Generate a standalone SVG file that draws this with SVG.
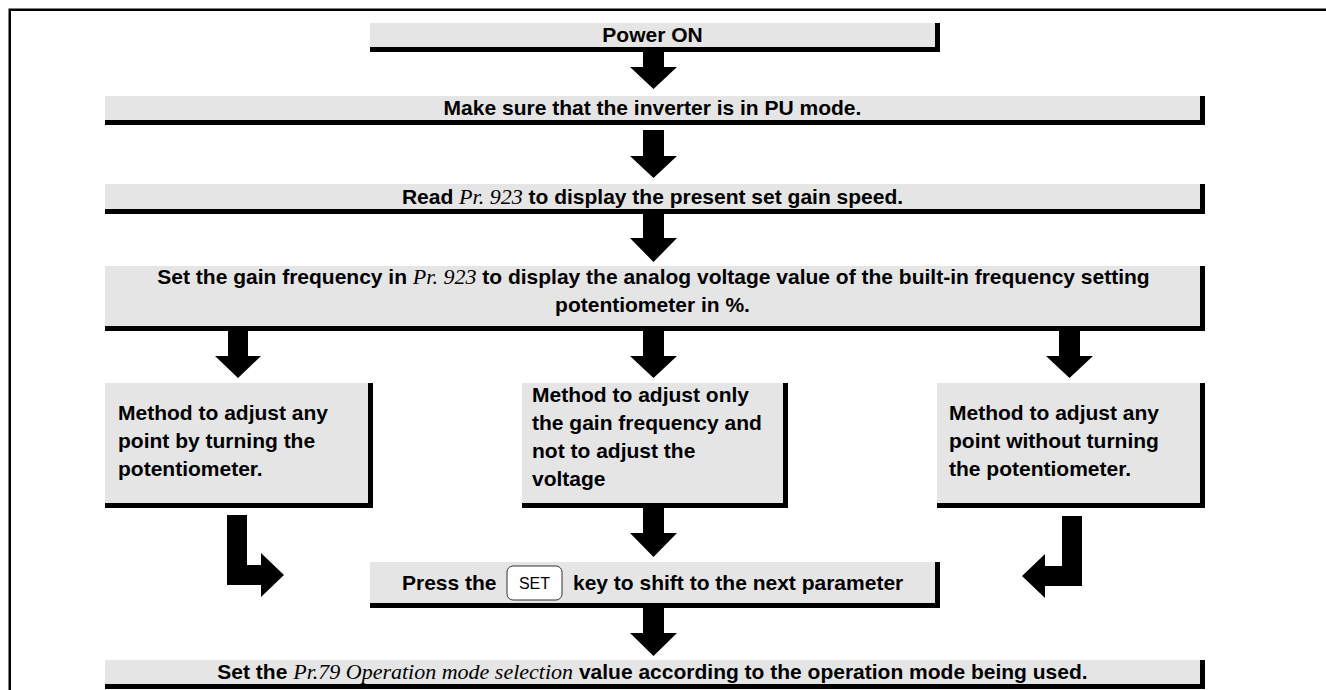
<svg xmlns="http://www.w3.org/2000/svg" width="1326" height="690" viewBox="0 0 1326 690">
<style>
.bg{fill:#e5e5e5}
.sh{fill:#000}
.t{font-family:"Liberation Sans",Arial,sans-serif;font-weight:bold;font-size:21px;fill:#000}
.c{text-anchor:middle}
.i{font-family:"Liberation Serif","Times New Roman",serif;font-style:italic;font-weight:normal;font-size:22px}
.k{font-family:"Liberation Sans",Arial,sans-serif;font-size:16px;fill:#000;text-anchor:middle}
.ar{fill:#000}
</style>
<rect x="0" y="0" width="1326" height="690" fill="#fff"/>
<path d="M9.75,690 V9.75 H1326" fill="none" stroke="#000" stroke-width="2.5"/>

<g id="connectors">
<path class="ar" d="M643,52 H664 V67 H677 L653.5,89 L630,67 H643 Z"/>
<path class="ar" d="M643,130 H664 V156 H677 L653.5,178 L630,156 H643 Z"/>
<path class="ar" d="M643,214 H664 V238 H677 L653.5,262 L630,238 H643 Z"/>
<path class="ar" d="M228,330 H248 V356 H261 L238,378 L215,356 H228 Z"/>
<path class="ar" d="M643,330 H664 V356 H677 L653.5,378 L630,356 H643 Z"/>
<path class="ar" d="M1059,330 H1080 V356 H1093 L1069.5,378 L1046,356 H1059 Z"/>
<path class="ar" d="M643,508 H664 V533 H677 L653.5,557 L630,533 H643 Z"/>
<path class="ar" d="M643,608 H664 V633 H677 L653.5,656 L630,633 H643 Z"/>
<path class="ar" d="M227,515 H247 V565 H261 V553 L284,575 L261,597 V585 H227 Z"/>
<path class="ar" d="M1062,516 H1082 V586 H1045 V598 L1022,576 L1045,554 V566 H1062 Z"/>
</g>

<g id="n1">
<rect class="sh" x="370" y="23" width="570" height="29"/>
<rect class="bg" x="370" y="23" width="565" height="24"/>
<text class="t c" x="652.5" y="42">Power ON</text>
</g>

<g id="n2">
<rect class="sh" x="105" y="96" width="1100" height="29"/>
<rect class="bg" x="105" y="96" width="1095" height="24"/>
<text class="t c" x="652.5" y="115">Make sure that the inverter is in PU mode.</text>
</g>

<g id="n3">
<rect class="sh" x="105" y="184" width="1100" height="30"/>
<rect class="bg" x="105" y="184" width="1095" height="25"/>
<text class="t c" x="652.5" y="204">Read <tspan class="i">Pr. 923</tspan> to display the present set gain speed.</text>
</g>

<g id="n4">
<rect class="sh" x="105" y="266" width="1100" height="65"/>
<rect class="bg" x="105" y="266" width="1095" height="60"/>
<text class="t c" x="653.5" y="284">Set the gain frequency in <tspan class="i">Pr. 923</tspan> to display the analog voltage value of the built-in frequency setting</text>
<text class="t c" x="652.5" y="312">potentiometer in %.</text>
</g>

<g id="n5">
<rect class="sh" x="105" y="383" width="268" height="125"/>
<rect class="bg" x="105" y="383" width="263" height="120"/>
<text class="t" x="118" y="420">Method to adjust any</text>
<text class="t" x="118" y="448">point by turning the</text>
<text class="t" x="118" y="476">potentiometer.</text>
</g>

<g id="n6">
<rect class="sh" x="522" y="383" width="266" height="125"/>
<rect class="bg" x="522" y="383" width="261" height="120"/>
<text class="t" x="532" y="402">Method to adjust only</text>
<text class="t" x="532" y="430">the gain frequency and</text>
<text class="t" x="532" y="458">not to adjust the</text>
<text class="t" x="532" y="486">voltage</text>
</g>

<g id="n7">
<rect class="sh" x="937" y="383" width="268" height="125"/>
<rect class="bg" x="937" y="383" width="263" height="120"/>
<text class="t" x="949" y="420">Method to adjust any</text>
<text class="t" x="949" y="448">point without turning</text>
<text class="t" x="949" y="476">the potentiometer.</text>
</g>

<g id="n8">
<rect class="sh" x="370" y="562" width="570" height="46"/>
<rect class="bg" x="370" y="562" width="565" height="41"/>
<text class="t" x="402" y="590">Press the</text>
<rect x="507" y="566" width="55" height="34" rx="6" fill="#fff" stroke="#333" stroke-width="1"/>
<text class="k" x="534.5" y="589">SET</text>
<text class="t" x="573" y="590">key to shift to the next parameter</text>
</g>

<g id="n9">
<rect class="sh" x="105" y="660" width="1100" height="29"/>
<rect class="bg" x="105" y="660" width="1095" height="24"/>
<text class="t c" x="652.5" y="679">Set the <tspan class="i">Pr.79 Operation mode selection</tspan> value according to the operation mode being used.</text>
</g>
</svg>
